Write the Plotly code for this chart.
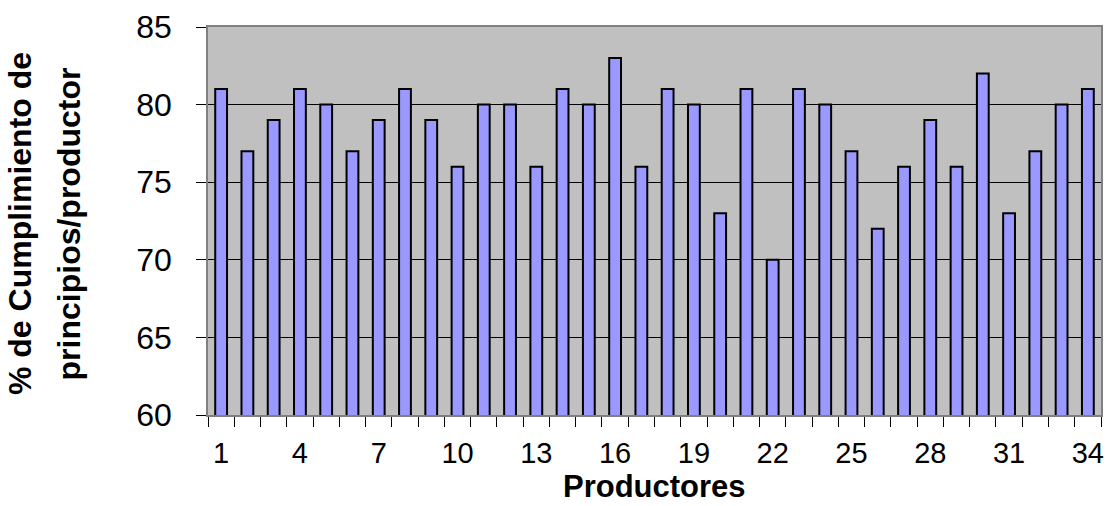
import plotly.graph_objects as go

# Producer numbers and their % compliance with principles
productores = list(range(1, 35))
cumplimiento = [81, 77, 79, 81, 80, 77, 79, 81, 79, 76,
                80, 80, 76, 81, 80, 83, 76, 81, 80, 73,
                81, 70, 81, 80, 77, 72, 76, 79, 76, 82,
                73, 77, 80, 81]
x_ticks = [1, 4, 7, 10, 13, 16, 19, 22, 25, 28, 31, 34]
y_ticks = [60, 65, 70, 75, 80, 85]

FONT = "Arial, 'Liberation Sans', sans-serif"

fig = go.Figure(
    go.Bar(
        x=productores,
        y=cumplimiento,
        width=0.45,
        marker=dict(color="#9999ff", line=dict(color="#000000", width=2)),
    )
)

fig.update_layout(
    width=1113,
    height=506,
    margin=dict(l=208, r=9, t=26, b=91),
    paper_bgcolor="#ffffff",
    plot_bgcolor="#c0c0c0",
    showlegend=False,
    font=dict(family=FONT, color="#000000"),
    xaxis=dict(
        range=[0.5, 34.5],
        tickmode="array",
        tickvals=x_ticks,
        ticktext=[str(v) for v in x_ticks],
        ticks="outside",
        ticklen=0,
        tickfont=dict(size=29),
        ticklabelstandoff=11,
        showgrid=False,
        zeroline=False,
        showline=True,
        linecolor="#808080",
        linewidth=1.5,
        mirror=True,
        minor=dict(
            tickmode="linear",
            tick0=0.5,
            dtick=1,
            ticks="outside",
            ticklen=10,
            tickcolor="#000000",
            tickwidth=1,
            showgrid=False,
        ),
    ),
    yaxis=dict(
        range=[60, 85],
        tickmode="array",
        tickvals=y_ticks,
        ticks="outside",
        ticklen=10,
        tickcolor="#000000",
        tickwidth=1,
        tickfont=dict(size=32),
        ticklabelstandoff=18,
        showgrid=True,
        gridcolor="#000000",
        gridwidth=1,
        zeroline=False,
        showline=True,
        linecolor="#808080",
        linewidth=1.5,
        mirror=True,
    ),
    annotations=[
        dict(
            text="<b>Productores</b>",
            xref="paper", yref="paper",
            x=0.5, y=-0.2339,
            xanchor="center", yanchor="bottom",
            showarrow=False,
            font=dict(size=31, family=FONT, color="#000000"),
        ),
        dict(
            text="<b>% de Cumplimiento de</b>",
            xref="paper", yref="paper",
            x=-0.2099, y=0.4936,
            xanchor="center", yanchor="middle",
            textangle=-90, showarrow=False,
            font=dict(size=32, family=FONT, color="#000000"),
        ),
        dict(
            text="<b>principios/productor</b>",
            xref="paper", yref="paper",
            x=-0.1546, y=0.4936,
            xanchor="center", yanchor="middle",
            textangle=-90, showarrow=False,
            font=dict(size=32, family=FONT, color="#000000"),
        ),
    ],
)

fig.write_html("out.html")
